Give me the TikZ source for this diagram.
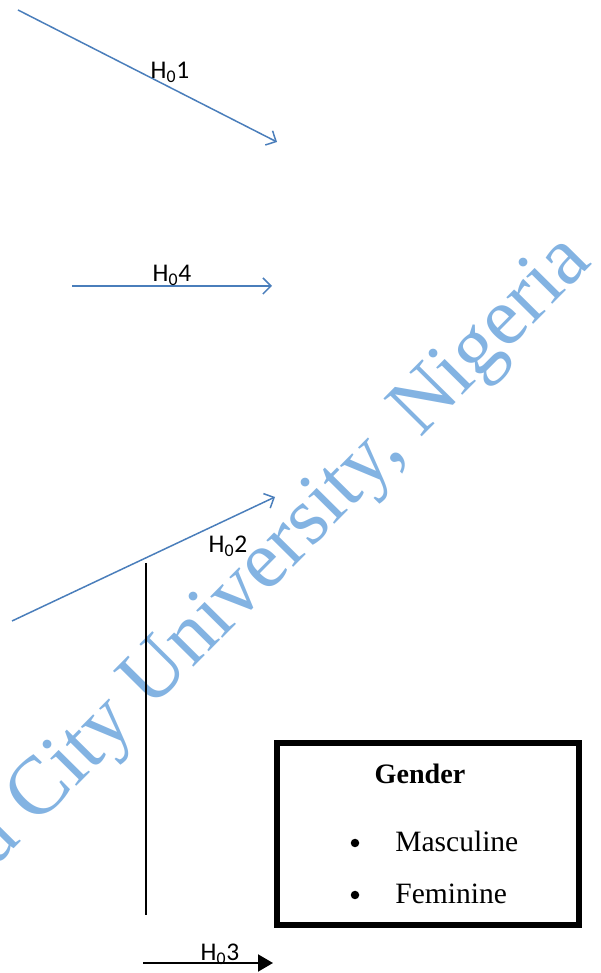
\documentclass[tikz,border=0pt]{standalone}
\usepackage{fontspec}
\setmainfont{Liberation Serif}
\newfontfamily\calibri{Carlito}
\usetikzlibrary{arrows.meta}
\begin{document}
\begin{tikzpicture}[x=1cm,y=1cm]
\definecolor{cline}{HTML}{4A7EBB}\definecolor{cwm}{HTML}{83B3E2}
\tikzset{hyparrow/.style={draw=cline,line width=0.85pt,-{Straight Barb[length=1.6mm,width=3.2mm]}},
 hyplabel/.style={font=\calibri\fontsize{14.5}{16}\selectfont,inner sep=0pt},
 item/.style={font=\fontsize{16.8}{19}\selectfont,anchor=west,inner sep=0pt},
 dot/.style={circle,fill,inner sep=0pt,minimum size=1.7mm}}
\useasboundingbox (0,0) rectangle (12,19.46);
\clip (0,0) rectangle (12,19.46);
% watermark
\node[text=cwm,font=\fontsize{46.8}{52}\selectfont,rotate=45.3,anchor=base west,inner sep=0pt] (wm) at (-0.075,2.118) {a City University, Nigeria};
% hypothesis arrows
\coordinate (h1s) at (0.36,19.26); \coordinate (h1e) at (5.54,16.62);
\coordinate (h4s) at (1.44,13.74); \coordinate (h4e) at (5.44,13.74);
\coordinate (h2s) at (0.24,7.04);  \coordinate (h2e) at (5.50,9.52);
\draw[hyparrow] (h1s) -- (h1e);
\draw[hyparrow] (h4s) -- (h4e);
\draw[hyparrow] (h2s) -- (h2e);
\node[hyplabel] (l1) at (3.40,18.02) {H\textsubscript{0}1};
\node[hyplabel] (l4) at (3.44,13.96) {H\textsubscript{0}4};
\node[hyplabel] (l2) at (4.56,8.54) {H\textsubscript{0}2};
% vertical line
\coordinate (vt) at (2.92,8.20); \coordinate (vb) at (2.92,1.16);
\draw[line width=1.1pt] (vt) -- (vb);
% gender box
\node[draw,line width=3.4pt,minimum width=6.04cm,minimum height=3.64cm] (gbox) at (8.56,2.78) {};
\node[font=\bfseries\fontsize{16}{19}\selectfont] (gtitle) at (8.40,3.98) {Gender};
\node[dot] (b1) at (7.10,2.60) {};
\node[dot] (b2) at (7.10,1.56) {};
\node[item] (i1) at (7.90,2.64) {Masculine};
\node[item] (i2) at (7.90,1.58) {Feminine};
% H03
\coordinate (h3s) at (2.86,0.20); \coordinate (h3e) at (5.46,0.20);
\draw[line width=1.1pt,-{Triangle[length=3mm,width=3.4mm]}] (h3s) -- (h3e);
\node[hyplabel] (l3) at (4.40,0.38) {H\textsubscript{0}3};
\end{tikzpicture}
\end{document}
